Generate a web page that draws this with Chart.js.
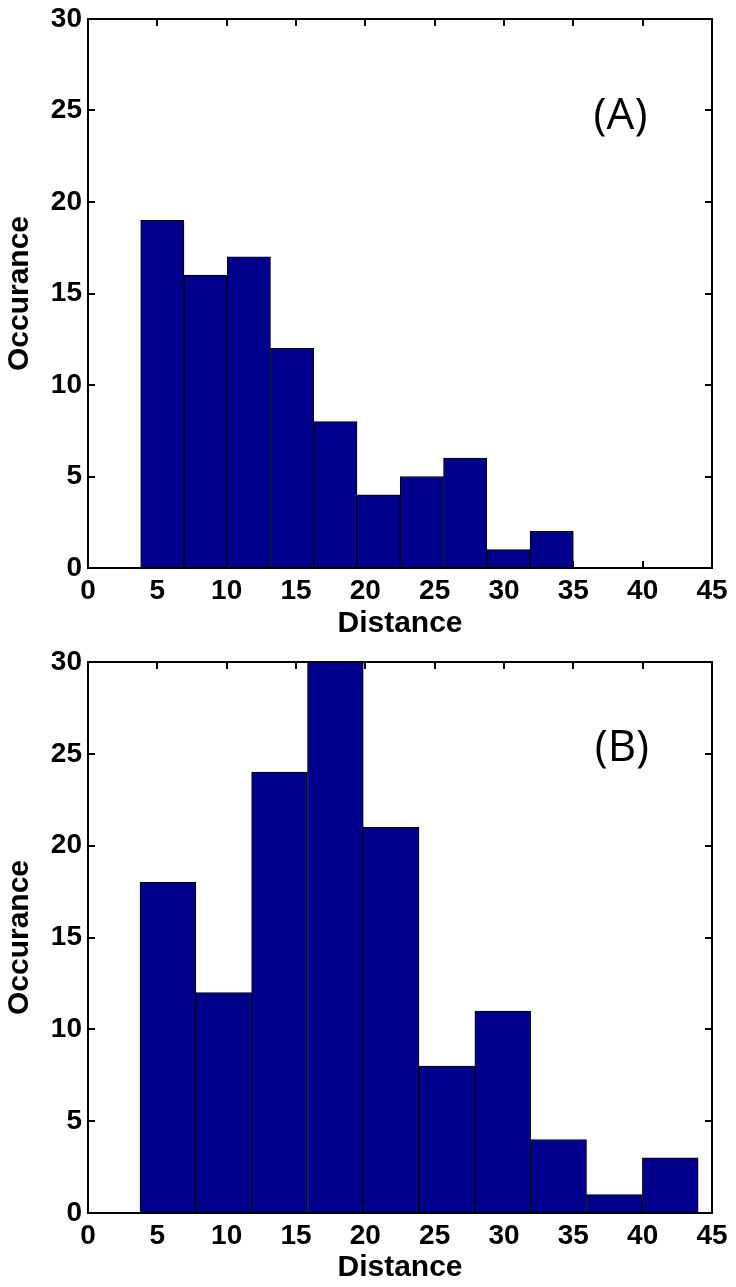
<!DOCTYPE html>
<html lang="en">
<head>
    <meta charset="UTF-8">
    <title>Distance histograms</title>
    <script src="https://cdn.jsdelivr.net/npm/chart.js@4.4.0/dist/chart.umd.min.js"></script>
    <style>
        body {
            margin: 0;
            background-color: #fff;
        }
        canvas {
            display: block;
        }
    </style>
</head>
<body>
    <canvas id="chartA" width="736" height="643"></canvas>
    <canvas id="chartB" width="736" height="644"></canvas>
    <script>
        // Histogram (A): bin centres and counts
        const binsA = [5.36, 8.48, 11.6, 14.72, 17.84, 20.96, 24.08, 27.2, 30.32, 33.44];
        const countsA = [19, 16, 17, 12, 8, 4, 5, 6, 1, 2];

        // Histogram (B): bin centres and counts
        const binsB = [5.76, 9.79, 13.81, 17.84, 21.86, 25.89, 29.91, 33.94, 37.96, 41.99];
        const countsB = [18, 12, 24, 30, 21, 8, 11, 4, 1, 3];

        // Axis ranges / ticks
        const xMin = 0, xMax = 45, xStep = 5;
        const yMin = 0, yMax = 30, yStep = 5;

        const tickFont = { family: 'Liberation Sans, Arial, sans-serif', size: 28, weight: 'bold' };
        const titleFont = { family: 'Liberation Sans, Arial, sans-serif', size: 30, weight: 'bold' };

        // draws the (A)/(B) panel letter at a data position
        const panelLabel = {
            id: 'panelLabel',
            afterDraw(chart, args, opts) {
                const { ctx, scales } = chart;
                ctx.save();
                ctx.font = '44px "Open Sans", sans-serif';
                ctx.fillStyle = '#000';
                ctx.textAlign = 'center';
                ctx.textBaseline = 'alphabetic';
                ctx.fillText(opts.text, scales.x.getPixelForValue(opts.x), scales.y.getPixelForValue(opts.y));
                ctx.restore();
            }
        };

        function axisGrid() {
            return {
                drawOnChartArea: false,
                offset: false,
                color: '#000',
                lineWidth: 2,
                tickLength: -7
            };
        }

        // fixed box size, and no extra room for labels hanging over the ends
        function fixSize(prop, value) {
            return s => {
                s[prop] = value;
                s.paddingLeft = s.paddingRight = s.paddingTop = s.paddingBottom = 0;
            };
        }

        function makeHistogram(id, bins, counts, label, xBottomHeight) {
            const points = bins.map((b, i) => ({ x: b, y: counts[i] }));
            return new Chart(document.getElementById(id), {
                type: 'bar',
                data: {
                    datasets: [{
                        data: points,
                        backgroundColor: '#00008C',
                        borderColor: '#000',
                        borderWidth: 1,
                        barPercentage: 1,
                        categoryPercentage: 1
                    }]
                },
                options: {
                    responsive: false,
                    animation: false,
                    layout: { padding: 0, autoPadding: false },
                    plugins: {
                        legend: { display: false },
                        tooltip: { enabled: false },
                        panelLabel: label
                    },
                    scales: {
                        x: {
                            type: 'linear',
                            position: 'bottom',
                            min: xMin, max: xMax,
                            offset: false,
                            grid: axisGrid(),
                            border: { display: true, color: '#000', width: 2 },
                            ticks: { stepSize: xStep, color: '#000', font: tickFont, padding: 13, maxRotation: 0, autoSkip: false },
                            title: { display: true, text: 'Distance', color: '#000', font: titleFont, padding: { top: 0, bottom: 1 } },
                            afterFit: fixSize('height', xBottomHeight)
                        },
                        x2: {
                            type: 'linear',
                            position: 'top',
                            min: xMin, max: xMax,
                            offset: false,
                            grid: axisGrid(),
                            border: { display: true, color: '#000', width: 2 },
                            ticks: { stepSize: xStep, display: false },
                            afterFit: fixSize('height', 19)
                        },
                        y: {
                            position: 'left',
                            min: yMin, max: yMax,
                            grid: axisGrid(),
                            border: { display: true, color: '#000', width: 2 },
                            ticks: { stepSize: yStep, color: '#000', font: tickFont, padding: 13 },
                            title: { display: true, text: 'Occurance', color: '#000', font: titleFont, padding: { top: 2, bottom: 0 } },
                            afterFit: fixSize('width', 88)
                        },
                        y2: {
                            position: 'right',
                            min: yMin, max: yMax,
                            grid: axisGrid(),
                            border: { display: true, color: '#000', width: 2 },
                            ticks: { stepSize: yStep, display: false },
                            afterFit: fixSize('width', 24)
                        }
                    }
                },
                plugins: [panelLabel]
            });
        }

        makeHistogram('chartA', binsA, countsA, { text: '(A)', x: 38.4, y: 24.0 }, 75);
        makeHistogram('chartB', binsB, countsB, { text: '(B)', x: 38.5, y: 24.6 }, 74);
    </script>
</body>
</html>
